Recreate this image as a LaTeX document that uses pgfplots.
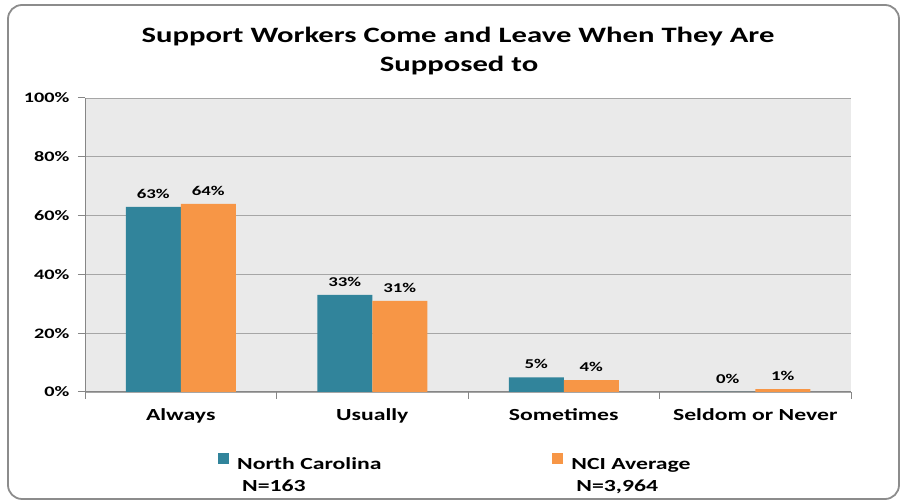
\documentclass[border=0pt]{standalone}
\usepackage{pgfplots}
\pgfplotsset{compat=1.18}
\usepackage{fontspec}
\setmainfont{Carlito}[FakeStretch=1.4]
\definecolor{ncteal}{HTML}{31849B}
\definecolor{nciorange}{HTML}{F79646}
\definecolor{plotbg}{HTML}{EAEAEA}
\definecolor{gridgray}{HTML}{A6A6A6}
\definecolor{axgray}{HTML}{868686}
\definecolor{framegray}{HTML}{8C8C8C}
\begin{document}
\begin{tikzpicture}[x=1bp,y=1bp]
\path[use as bounding box] (0,0) rectangle (900,500);
\draw[framegray, line width=1.8bp, rounded corners=14bp] (8,1) rectangle (899,495);
\node[font=\fontsize{22}{29}\selectfont\bfseries, anchor=base] at (458,457) {Support Workers Come and Leave When They Are};
\node[font=\fontsize{22}{29}\selectfont\bfseries, anchor=base] at (459,428) {Supposed to};
\begin{axis}[
  width=766bp, height=294bp, scale only axis,
  at={(85bp,108bp)}, anchor=south west,
  ybar=0pt, bar width=55bp,
  ymin=0, ymax=100, ytick={0,20,...,100},
  yticklabel={\pgfmathprintnumber{\tick}\%},
  xmin=-0.5, xmax=3.5,
  xtick={0,1,2,3}, xticklabels={Always,Usually,Sometimes,Seldom or Never},
  minor xtick={-0.5,0.5,1.5,2.5,3.5},
  axis x line*=bottom, axis y line*=left,
  axis background/.style={fill=plotbg},
  ymajorgrids, grid style={gridgray, line width=0.8bp},
  axis line style={axgray, line width=1bp},
  tick align=outside, major tick length=7bp, minor tick length=7bp,
  major x tick style={draw=none},
  minor x tick style={axgray, line width=1bp},
  y tick style={axgray, line width=1bp},
  /pgf/number format/assume math mode=true,
  yticklabel style={font=\fontsize{14.5}{16}\selectfont\bfseries, xshift=-5bp},
  xticklabel style={font=\fontsize{17}{20}\selectfont\bfseries, yshift=-6bp},
  nodes near coords={\pgfmathprintnumber{\pgfplotspointmeta}\%},
  nodes near coords style={font=\fontsize{13.5}{15}\selectfont\bfseries, yshift=5bp},
  enlarge y limits=false,
  clip=false,
  legend image code/.code={\fill[#1,draw=none] (0bp,-1bp) rectangle (11bp,10bp);},
  legend style={at={(0.1736,-0.204)}, anchor=north west, draw=none, fill=none,
    legend columns=2, inner sep=0pt,
    font=\fontsize{17}{22}\selectfont\bfseries,
    /tikz/every odd column/.append style={column sep=6bp},
    /tikz/every even column/.append style={column sep=169bp},
    legend cell align=left},
]
\addplot[fill=ncteal, draw=none] coordinates {(0,63) (1,33) (2,5) (3,0)};
\addlegendentry{\begin{tabular}[t]{@{}l@{}}North Carolina\\\hspace{5bp}N=163\end{tabular}}
\addplot[fill=nciorange, draw=none] coordinates {(0,64) (1,31) (2,4) (3,1)};
\addlegendentry{\begin{tabular}[t]{@{}l@{}}NCI Average\\\hspace{5bp}N=3,964\end{tabular}}
\end{axis}
\end{tikzpicture}
\end{document}
